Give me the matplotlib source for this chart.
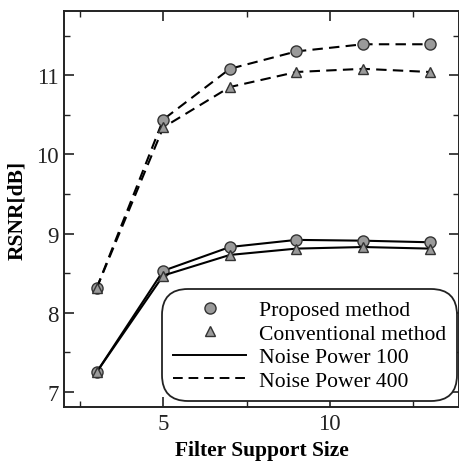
import matplotlib
matplotlib.use("Agg")
import matplotlib.pyplot as plt
from matplotlib.lines import Line2D
from matplotlib.ticker import MultipleLocator

plt.rcParams['font.family'] = ['Liberation Serif', 'DejaVu Serif']

sizes = [3, 5, 7, 9, 11, 13]
proposed_400 = [8.31, 10.44, 11.08, 11.30, 11.39, 11.39]
conventional_400 = [8.31, 10.34, 10.85, 11.04, 11.08, 11.04]
proposed_100 = [7.25, 8.53, 8.83, 8.92, 8.91, 8.89]
conventional_100 = [7.25, 8.47, 8.73, 8.81, 8.83, 8.81]

legend_labels = ["Proposed method", "Conventional method", "Noise Power 100", "Noise Power 400"]

W, H = 460, 464
fig = plt.figure(figsize=(W / 100, H / 100), dpi=100)
l, r, t, b = 64, 459, 12, 408
ax = fig.add_axes([l / W, 1 - b / H, (r - l) / W, (b - t) / H])

mfc = '#9a9a9a'
mec = '#333333'
for y, ls, mk, ms in [(proposed_400, '--', 'o', 8), (conventional_400, '--', '^', 7.5),
                      (proposed_100, '-', 'o', 8), (conventional_100, '-', '^', 7.5)]:
    ax.plot(sizes, y, color='black', linestyle=ls, linewidth=1.5,
            dashes=(5, 3) if ls == '--' else (None, None),
            marker=mk, markersize=ms, markerfacecolor=mfc, markeredgecolor=mec,
            markeredgewidth=1.0)

ax.set_xlim(2.02, 13.88)
ax.set_ylim(6.81, 11.81)
ax.xaxis.set_major_locator(MultipleLocator(5))
ax.xaxis.set_minor_locator(MultipleLocator(2.5))
ax.yaxis.set_major_locator(MultipleLocator(1))
ax.yaxis.set_minor_locator(MultipleLocator(0.5))
ax.tick_params(which='both', direction='in', top=True, right=True, labelsize=16.5, colors='#222222')
ax.tick_params(which='major', length=7, width=1.2, pad=4)
ax.tick_params(which='minor', length=4, width=1.0)
for s in ax.spines.values():
    s.set_linewidth(1.4)
    s.set_color('#222222')

ax.set_xlabel("Filter Support Size", fontsize=15.5, fontweight='bold', labelpad=5)
ax.set_ylabel("RSNR[dB]", fontsize=15.5, fontweight='bold', labelpad=6)

handles = [
    Line2D([], [], linestyle='none', marker='o', markersize=8, markerfacecolor=mfc, markeredgecolor=mec),
    Line2D([], [], linestyle='none', marker='^', markersize=7.5, markerfacecolor=mfc, markeredgecolor=mec),
    Line2D([], [], color='black', linestyle='-', linewidth=1.4),
    Line2D([], [], color='black', linestyle='--', dashes=(5, 3), linewidth=1.4),
]
leg = ax.legend(handles, legend_labels, loc='lower right', bbox_to_anchor=(0.985, 0.025),
                borderaxespad=0, fontsize=15.6, handlelength=3.4, handletextpad=0.6,
                labelspacing=0.15, borderpad=0.3, fancybox=True, framealpha=1,
                edgecolor='#222222')
leg.get_frame().set_linewidth(1.3)
leg.get_frame().set_boxstyle('round', pad=0.2, rounding_size=1.2)

fig.savefig("out.png", dpi=100)
